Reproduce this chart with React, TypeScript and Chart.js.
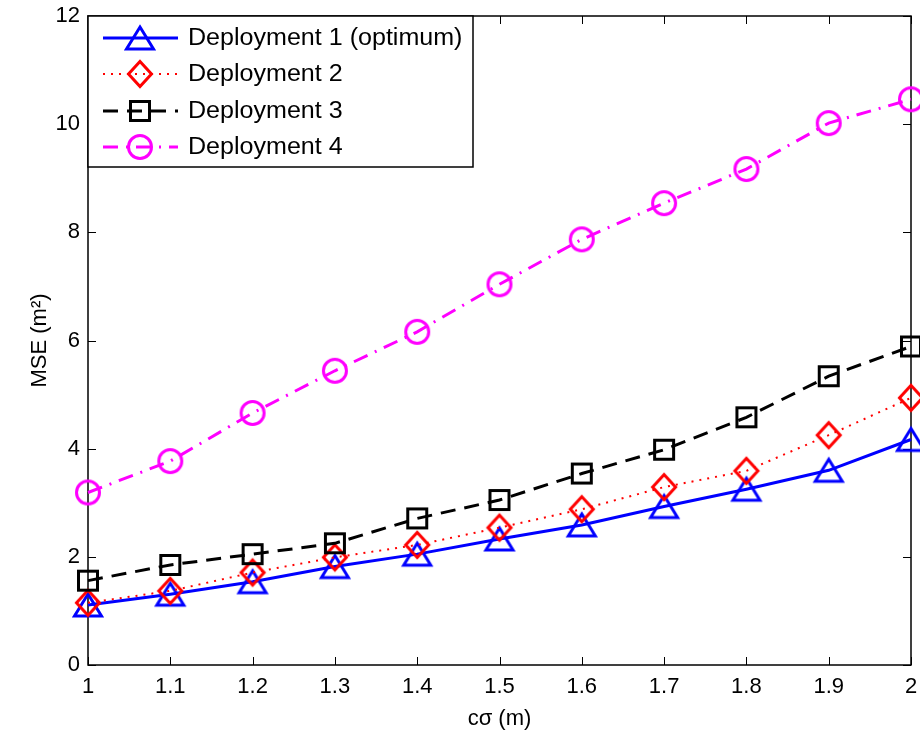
import React, { useEffect, useRef } from 'react';
import { Chart, registerables } from 'chart.js';

Chart.register(...registerables);

const xValues = [1, 1.1, 1.2, 1.3, 1.4, 1.5, 1.6, 1.7, 1.8, 1.9, 2];
const xTickLabels = ['1', '1.1', '1.2', '1.3', '1.4', '1.5', '1.6', '1.7', '1.8', '1.9', '2'];
const yTickValues = [0, 2, 4, 6, 8, 10, 12];
const seriesNames = ['Deployment 1 (optimum)', 'Deployment 2', 'Deployment 3', 'Deployment 4'];
const deployment1 = [1.11, 1.31, 1.54, 1.82, 2.05, 2.33, 2.59, 2.93, 3.25, 3.6, 4.17];
const deployment2 = [1.15, 1.37, 1.71, 1.99, 2.22, 2.54, 2.88, 3.29, 3.59, 4.25, 4.94];
const deployment3 = [1.56, 1.85, 2.05, 2.25, 2.71, 3.05, 3.54, 3.98, 4.58, 5.34, 5.89];
const deployment4 = [3.19, 3.77, 4.66, 5.44, 6.16, 7.04, 7.87, 8.54, 9.17, 10.02, 10.46];
const xTitle = 'cσ (m)';
const yTitle = 'MSE (m²)';

const FONT = '"Liberation Sans", Arial, Helvetica, sans-serif';

type MarkerKind = 'triangle' | 'diamond' | 'square' | 'circle';

function makeMarker(kind: MarkerKind, color: string): HTMLCanvasElement {
  const c = document.createElement('canvas');
  c.width = 40;
  c.height = 40;
  const ctx = c.getContext('2d')!;
  ctx.translate(20, 20);
  ctx.strokeStyle = color;
  ctx.lineWidth = 3;
  ctx.lineJoin = 'miter';
  ctx.beginPath();
  if (kind === 'triangle') {
    ctx.moveTo(0, -11);
    ctx.lineTo(13.5, 11);
    ctx.lineTo(-13.5, 11);
    ctx.closePath();
  } else if (kind === 'diamond') {
    ctx.moveTo(0, -12.5);
    ctx.lineTo(11.5, 0);
    ctx.lineTo(0, 12.5);
    ctx.lineTo(-11.5, 0);
    ctx.closePath();
  } else if (kind === 'square') {
    ctx.rect(-9.5, -9.5, 19, 19);
  } else {
    ctx.arc(0, 0, 11.5, 0, Math.PI * 2);
  }
  ctx.stroke();
  return c;
}

export default function App() {
  const canvasRef = useRef<HTMLCanvasElement | null>(null);

  useEffect(() => {
    const canvas = canvasRef.current;
    if (!canvas) return;

    const styles = [
      { color: '#0000ff', dash: [] as number[], width: 3, marker: makeMarker('triangle', '#0000ff') },
      { color: '#ff0000', dash: [2, 6], width: 2, marker: makeMarker('diamond', '#ff0000') },
      { color: '#000000', dash: [15, 9], width: 3, marker: makeMarker('square', '#000000') },
      { color: '#ff00ff', dash: [15, 8, 2, 8], width: 3, marker: makeMarker('circle', '#ff00ff') },
    ];
    const seriesData = [deployment1, deployment2, deployment3, deployment4];

    const datasets = seriesData.map((d, k) => ({
      label: seriesNames[k],
      data: xValues.map((x, i) => ({ x, y: d[i] })),
      borderColor: styles[k].color,
      backgroundColor: styles[k].color,
      borderWidth: styles[k].width,
      borderDash: styles[k].dash,
      pointStyle: styles[k].marker as any,
      pointRadius: 12,
      pointHoverRadius: 12,
      tension: 0,
      fill: false,
      clip: false as any,
      order: 4 - k,
    }));

    const framePlugin = {
      id: 'frame',
      beforeDatasetsDraw(chart: any) {
        const { ctx, chartArea } = chart;
        const { left, right, top, bottom } = chartArea;
        const xs = chart.scales.x;
        const ys = chart.scales.y;
        ctx.save();
        ctx.strokeStyle = '#000';
        ctx.lineWidth = 1.5;
        ctx.strokeRect(left, top, right - left, bottom - top);
        const tl = 8;
        ctx.lineWidth = 1;
        ctx.beginPath();
        xValues.forEach((v) => {
          const px = Math.round(xs.getPixelForValue(v)) + 0.5;
          ctx.moveTo(px, bottom);
          ctx.lineTo(px, bottom - tl);
          ctx.moveTo(px, top);
          ctx.lineTo(px, top + tl);
        });
        yTickValues.forEach((v) => {
          const py = Math.round(ys.getPixelForValue(v)) + 0.5;
          ctx.moveTo(left, py);
          ctx.lineTo(left + tl, py);
          ctx.moveTo(right, py);
          ctx.lineTo(right - tl, py);
        });
        ctx.stroke();
        ctx.restore();
      },
    };

    const legendPlugin = {
      id: 'customLegend',
      afterDraw(chart: any) {
        const { ctx, chartArea } = chart;
        const bx = chartArea.left;
        const by = chartArea.top;
        const bw = 385;
        const bh = 151;
        ctx.save();
        ctx.fillStyle = '#fff';
        ctx.fillRect(bx, by, bw, bh);
        ctx.strokeStyle = '#000';
        ctx.lineWidth = 1.5;
        ctx.strokeRect(bx, by, bw, bh);
        const rowY = [38, 74, 111, 147];
        seriesNames.forEach((name, k) => {
          const st = styles[k];
          const y = rowY[k];
          ctx.save();
          ctx.strokeStyle = st.color;
          ctx.lineWidth = st.width;
          ctx.setLineDash(st.dash);
          ctx.beginPath();
          ctx.moveTo(bx + 15, y);
          ctx.lineTo(bx + 90, y);
          ctx.stroke();
          ctx.restore();
          const m = st.marker;
          ctx.drawImage(m, bx + 52 - m.width / 2, y - m.height / 2);
          ctx.save();
          ctx.fillStyle = '#000';
          ctx.font = `23px ${FONT}`;
          ctx.textBaseline = 'middle';
          ctx.textAlign = 'left';
          ctx.translate(bx + 100, y + 1);
          ctx.scale(1.09, 1);
          ctx.fillText(name, 0, 0);
          ctx.restore();
        });
        ctx.restore();
      },
    };

    const chart = new Chart(canvas, {
      type: 'line',
      data: { datasets: datasets as any },
      options: {
        responsive: false,
        animation: false,
        devicePixelRatio: 1,
        layout: { autoPadding: false, padding: { top: 16, right: 9, left: 0, bottom: 0 } } as any,
        plugins: {
          legend: { display: false },
          tooltip: { enabled: false },
        },
        scales: {
          x: {
            type: 'linear',
            min: 1,
            max: 2,
            afterBuildTicks: (s: any) => {
              s.ticks = xValues.map((v) => ({ value: v }));
            },
            afterFit: (s: any) => {
              s.height = 71;
              s.paddingLeft = 0;
              s.paddingRight = 0;
            },
            ticks: {
              callback: (_v: any, i: number) => xTickLabels[i],
              font: { family: FONT, size: 22 },
              color: '#000',
              padding: 9,
              maxRotation: 0,
              autoSkip: false,
            },
            grid: { display: true, drawOnChartArea: false, drawTicks: false, color: 'rgba(0,0,0,0)' },
            border: { display: false },
            title: {
              display: true,
              text: xTitle,
              font: { family: FONT, size: 22 },
              color: '#000',
              padding: { top: 0, bottom: 4 },
            },
          },
          y: {
            type: 'linear',
            min: 0,
            max: 12,
            afterBuildTicks: (s: any) => {
              s.ticks = yTickValues.map((v) => ({ value: v }));
            },
            afterFit: (s: any) => {
              s.width = 88;
              s.paddingTop = 0;
              s.paddingBottom = 0;
            },
            ticks: {
              callback: (v: any) => String(v),
              font: { family: FONT, size: 22 },
              color: '#000',
              padding: 8,
              autoSkip: false,
            },
            grid: { display: true, drawOnChartArea: false, drawTicks: false, color: 'rgba(0,0,0,0)' },
            border: { display: false },
            title: {
              display: true,
              text: yTitle,
              font: { family: FONT, size: 22 },
              color: '#000',
              padding: { top: 27, bottom: 0 },
            },
          },
        },
      },
      plugins: [framePlugin, legendPlugin],
    });

    return () => chart.destroy();
  }, []);

  return (
    <div style={{ position: 'absolute', left: 0, top: 0, width: 920, height: 736, background: '#fff' }}>
      <canvas ref={canvasRef} width={920} height={736} style={{ display: 'block' }} />
    </div>
  );
}
